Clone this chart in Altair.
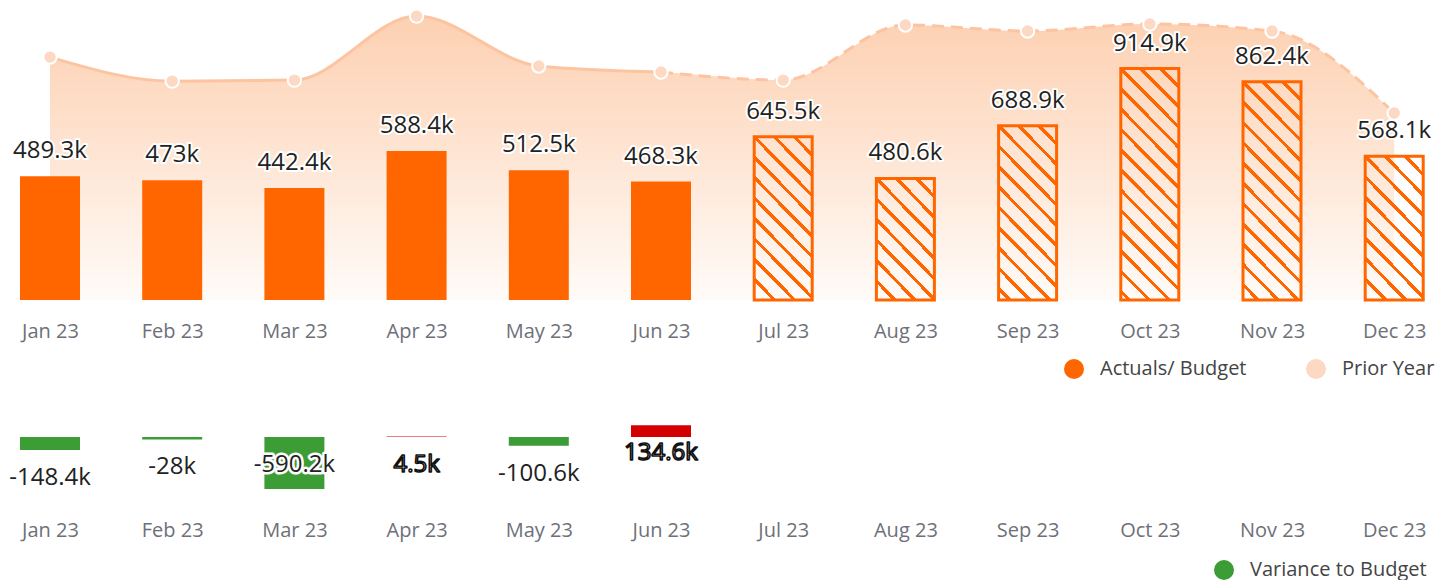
import json
import altair as alt
import pandas as pd

# ---------------- data ----------------
months = ["Jan 23", "Feb 23", "Mar 23", "Apr 23", "May 23", "Jun 23",
          "Jul 23", "Aug 23", "Sep 23", "Oct 23", "Nov 23", "Dec 23"]
actual_budget = [489.3, 473, 442.4, 588.4, 512.5, 468.3,
                 645.5, 480.6, 688.9, 914.9, 862.4, 568.1]
prior_year = [960, 865, 869, 1122, 925, 901, 869, 1087, 1063, 1091, 1063, 739]
variance = [-148.4, -28, -590.2, 4.5, -100.6, 134.6]
n_actual = 6  # Jan-Jun are actuals, Jul-Dec budget


def fmt(v):
    return f"{v:g}k"


top_df = pd.DataFrame({
    "idx": list(range(len(months))),
    "value": actual_budget,
    "prior": prior_year,
    "label": [fmt(v) for v in actual_budget],
    "series": "Actuals/ Budget",
    "pseries": "Prior Year",
})
var_df = pd.DataFrame({
    "idx": list(range(len(variance))),
    "variance": variance,
    "label": [fmt(v) for v in variance],
    "series": "Variance to Budget",
})

# ---------------- styles ----------------
ORANGE = "#ff6600"
LINE = "#fcc4a0"
GREEN = "#3c9c35"
RED = "#d40000"
FONT = "Open Sans"

W = 1434
STEP = 122.2
TOP_H = 292
TOP_MAX = 1154
BOT_H = 94
BOT_DOMAIN = [-704.5, 363.6]

x_lo = -42 / STEP
x_hi = x_lo + W / STEP
xscale = alt.Scale(domain=[x_lo, x_hi], nice=False, zero=False, padding=0)
xaxis = alt.Axis(values=list(range(12)),
                 labelExpr=f"{json.dumps(months)}[datum.value]",
                 title=None, domain=False, ticks=False, tickSize=0, grid=False,
                 labelPadding=21, labelFontSize=20, labelFont=FONT,
                 labelColor="#6e7079", labelOverlap=False, labelFlush=False)
X = alt.X("idx:Q", scale=xscale, axis=xaxis)
ytop = alt.Scale(domain=[0, TOP_MAX], nice=False, zero=False, padding=0)

# ---------------- top panel ----------------
area_grad = alt.LinearGradient(
    gradient="linear",
    stops=[alt.GradientStop(color="#fdd0b1", offset=0),
           alt.GradientStop(color="#fffbf8", offset=1)],
    x1=0, x2=0, y1=0, y2=1)

area = alt.Chart(top_df).mark_area(interpolate="monotone", fill=area_grad).encode(
    x=X, y=alt.Y("prior:Q", scale=ytop, axis=None))

line_solid = alt.Chart(top_df).transform_filter(f"datum.idx <= {n_actual - 1}").mark_line(
    interpolate="monotone", color=LINE, strokeWidth=3).encode(
    x=X, y=alt.Y("prior:Q", scale=ytop, axis=None))

line_dash = alt.Chart(top_df).transform_filter(f"datum.idx >= {n_actual - 1}").mark_line(
    interpolate="monotone", color=LINE, strokeWidth=3, strokeDash=[12, 7]).encode(
    x=X, y=alt.Y("prior:Q", scale=ytop, axis=None))

color_top = alt.Scale(domain=["Actuals/ Budget", "Prior Year"], range=[ORANGE, "#fdd8c2"])
legend_top = alt.Legend(title=None, orient="none", legendX=1056, legendY=351,
                        direction="horizontal", symbolType="circle", symbolSize=400,
                        symbolStrokeWidth=0, labelFontSize=20, labelFont=FONT,
                        labelColor="#444444", labelOffset=16, columnPadding=59,
                        padding=0, labelLimit=0)

points = alt.Chart(top_df).mark_point(filled=True, size=180, stroke="white",
                                      strokeWidth=2, opacity=1).encode(
    x=X, y=alt.Y("prior:Q", scale=ytop, axis=None),
    color=alt.Color("pseries:N", scale=color_top, legend=legend_top))

solid_bars = alt.Chart(top_df).transform_filter(f"datum.idx < {n_actual}").mark_bar(
    size=60, orient="vertical").encode(
    x=X, y=alt.Y("value:Q", scale=ytop, axis=None),
    color=alt.Color("series:N", scale=color_top, legend=legend_top))


def hatch_gradient(h, w=58.0, spacing=20.0, thick=4.6):
    L = w * w + h * h
    qmax = w + h
    stops = []
    k = -int(w // spacing) - 1
    while True:
        qc = w + k * spacing
        a = qc - thick / 2
        b = qc + thick / 2
        if a > qmax:
            break
        a = max(a, 0.0)
        b = min(b, qmax)
        if b > a:
            ta = a * w / L
            tb = b * w / L
            if not stops:
                stops.append((0.0, "transparent"))
            stops += [(ta, "transparent"), (ta, ORANGE), (tb, ORANGE), (tb, "transparent")]
        k += 1
    return alt.LinearGradient(
        gradient="linear",
        stops=[alt.GradientStop(color=c, offset=round(o, 5)) for o, c in stops],
        x1=1, y1=0, x2=0, y2=h / w)


hatched = []
for i in range(n_actual, len(months)):
    h_px = actual_budget[i] * TOP_H / TOP_MAX - 3
    hatched.append(
        alt.Chart(top_df).transform_filter(f"datum.idx == {i}").mark_bar(
            size=58, orient="vertical", fill=hatch_gradient(h_px), stroke=ORANGE,
            strokeWidth=3).encode(x=X, y=alt.Y("value:Q", scale=ytop, axis=None)))

label_base = dict(fontSize=24, font=FONT, baseline="alphabetic", align="center", dy=-18)
top_halo = alt.Chart(top_df).mark_text(stroke="white", strokeWidth=4, strokeJoin="round",
                                       fill="white", **label_base).encode(
    x=X, y=alt.Y("value:Q", scale=ytop, axis=None), text="label:N")
top_text = alt.Chart(top_df).mark_text(fill="#222222", **label_base).encode(
    x=X, y=alt.Y("value:Q", scale=ytop, axis=None), text="label:N")

top = alt.layer(area, line_solid, line_dash, points, solid_bars, *hatched,
                top_halo, top_text).properties(width=W, height=TOP_H)

# ---------------- bottom panel ----------------
ybot = alt.Scale(domain=BOT_DOMAIN, nice=False, zero=False, padding=0)
legend_bot = alt.Legend(title=None, orient="none", legendX=1206, legendY=155,
                        direction="horizontal", symbolType="circle", symbolSize=400,
                        symbolStrokeWidth=0, labelFontSize=20, labelFont=FONT,
                        labelColor="#444444", labelOffset=16, padding=0, labelLimit=0)

var_bars = alt.Chart(var_df).mark_bar(size=60, orient="vertical").encode(
    x=X, y=alt.Y("variance:Q", scale=ybot, axis=None),
    color=alt.condition("datum.variance > 0", alt.value(RED),
                        alt.Color("series:N",
                                  scale=alt.Scale(domain=["Variance to Budget"], range=[GREEN]),
                                  legend=legend_bot)))

vlabel = dict(fontSize=24, font=FONT, baseline="alphabetic", align="center", dy=35)
var_lab = alt.Chart(var_df).transform_calculate(
    anchor="datum.variance < -300 ? 0 : datum.variance")
Yl = alt.Y("anchor:Q", scale=ybot, axis=None)

var_halo = var_lab.mark_text(stroke="white", strokeWidth=5, strokeJoin="round",
                             fill="white", **vlabel).encode(x=X, y=Yl, text="label:N")
var_text_neg = var_lab.transform_filter("datum.variance <= 0").mark_text(
    fill="#222222", **vlabel).encode(x=X, y=Yl, text="label:N")
var_text_pos = var_lab.transform_filter("datum.variance > 0").mark_text(
    fill="white", stroke="#111111", strokeWidth=1.6, strokeJoin="round", **vlabel).encode(
    x=X, y=Yl, text="label:N")

bottom = alt.layer(var_bars, var_halo, var_text_neg, var_text_pos).properties(
    width=W, height=BOT_H)

chart = (alt.vconcat(top, bottom, spacing=105, bounds="flush")
         .resolve_scale(color="independent", x="independent", y="independent")
         .properties(padding={"top": -3, "left": 0, "right": 0, "bottom": 0})
         .configure(font=FONT)
         .configure_view(strokeWidth=0, stroke="transparent"))

chart.save("out.html", embed_options={"renderer": "svg", "actions": False})
